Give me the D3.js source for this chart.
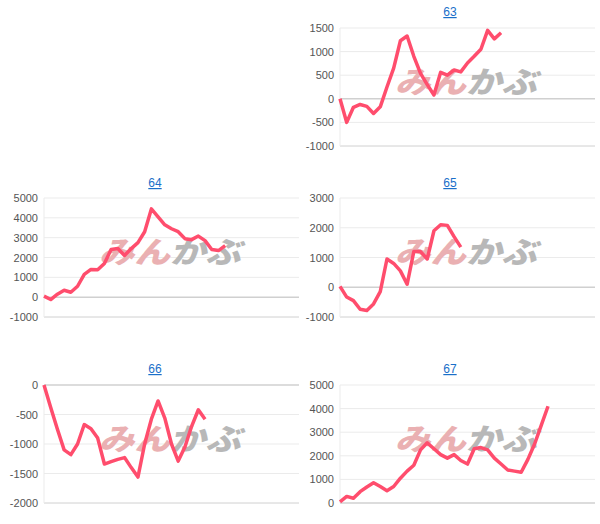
<!DOCTYPE html><html><head><meta charset="utf-8">
<script src="https://cdn.jsdelivr.net/npm/d3@7"></script>
<style>body{margin:0;background:#fff}</style></head><body>
<svg id="c" width="600" height="524"></svg>
<script>
const titles=["63","64","65","66","67"];
const s63=[0,-500,-180,-120,-160,-310,-170,250,650,1230,1330,900,540,300,80,560,500,610,570,760,900,1050,1450,1270,1400];
const s64=[50,-120,150,350,250,550,1150,1400,1380,1700,2400,2450,2100,2450,2750,3300,4450,4050,3650,3450,3300,2950,2900,3080,2850,2400,2350,2600];
const s65=[30,-330,-450,-740,-780,-560,-150,950,800,550,100,1200,1200,950,1900,2100,2080,1700,1350];
const s66=[0,-380,-750,-1100,-1180,-1000,-670,-740,-900,-1340,-1300,-1260,-1230,-1400,-1560,-1000,-580,-270,-560,-1000,-1290,-1050,-700,-420,-580];
const s67=[50,280,200,480,680,860,700,520,700,1050,1350,1600,2250,2550,2300,2050,1900,2050,1800,1650,2300,2350,2250,1900,1650,1400,1350,1300,1850,2500,3300,4100];
const ticks63=[-1000,-500,0,500,1000,1500];
const ticks64=[-1000,0,1000,2000,3000,4000,5000];
const ticks65=[-1000,0,1000,2000,3000];
const ticks66=[-2000,-1500,-1000,-500,0];
const ticks67=[0,1000,2000,3000,4000,5000];
const panels=[
 {t:titles[0],d:s63,ticks:ticks63,cx:450,l:340,top:28,bot:146,ty:16},
 {t:titles[1],d:s64,ticks:ticks64,cx:155,l:44,top:198,bot:317,ty:187},
 {t:titles[2],d:s65,ticks:ticks65,cx:450,l:340,top:198,bot:317,ty:187},
 {t:titles[3],d:s66,ticks:ticks66,cx:155,l:44,top:385,bot:503,ty:373},
 {t:titles[4],d:s67,ticks:ticks67,cx:450,l:340,top:385,bot:503,ty:373}];
const svg=d3.select("#c");
panels.forEach(p=>{
 const g=svg.append("g");
 const x=d3.scaleLinear().domain([0,38]).range([p.l,p.l+255]);
 const y=d3.scaleLinear().domain(d3.extent(p.ticks)).range([p.bot,p.top]);
 g.append("text").attr("x",p.cx).attr("y",p.ty).attr("text-anchor","middle")
  .attr("font-family","Arial, Liberation Sans, sans-serif").attr("font-size",12)
  .attr("fill","#1a6fc9").attr("text-decoration","underline").text(p.t);
 p.ticks.forEach(v=>{
  g.append("line").attr("x1",p.l).attr("x2",p.l+255).attr("y1",y(v)).attr("y2",y(v))
   .attr("stroke",v===0||v===p.ticks[0]?"#d0d0d0":"#ebebeb").attr("stroke-width",v===0?1.5:1);
  g.append("text").attr("x",p.l-6).attr("y",y(v)+4).attr("text-anchor","end")
   .attr("font-family","Arial, Liberation Sans, sans-serif").attr("font-size",11)
   .attr("fill","#555").text(v);
 });
 g.append("line").attr("x1",p.l).attr("x2",p.l).attr("y1",p.top).attr("y2",p.bot).attr("stroke","#ebebeb");
 const wx=p.l+55, wy=(p.top+p.bot)/2+6;
 const wm=g.append("text").attr("x",wx).attr("y",wy)
  .attr("font-family","Noto Sans CJK JP, sans-serif").attr("font-size",30).attr("font-weight","900")
  .attr("transform",`translate(${wx},${wy}) skewX(-15) translate(${-wx},${-wy})`)
  .attr("textLength",142).attr("lengthAdjust","spacingAndGlyphs");
 wm.append("tspan").attr("fill","#eab0b2").text("みん");
 wm.append("tspan").attr("fill","#b8b8b8").text("かぶ");
 g.append("path").datum(p.d).attr("fill","none").attr("stroke","#ff4d6d").attr("stroke-width",3.5)
  .attr("stroke-linejoin","round")
  .attr("d",d3.line().x((d,i)=>x(i)).y(d=>y(d)));
});
</script></body></html>
